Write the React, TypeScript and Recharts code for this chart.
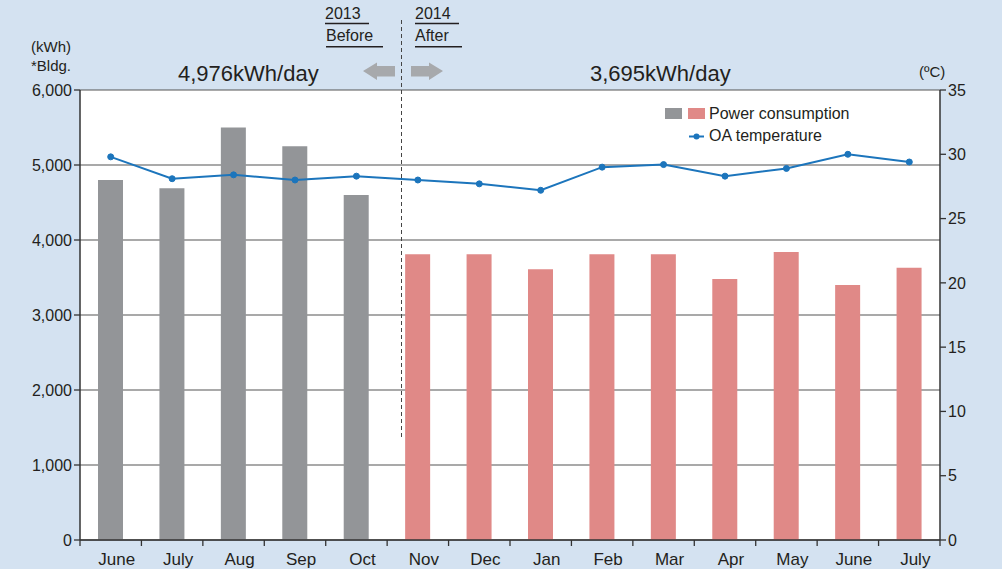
import React from 'react';
import { ComposedChart, Bar, Line, XAxis, YAxis, CartesianGrid, Cell } from 'recharts';

const categories = ['June', 'July', 'Aug', 'Sep', 'Oct', 'Nov', 'Dec', 'Jan', 'Feb', 'Mar', 'Apr', 'May', 'June', 'July'];
const power = [4800, 4690, 5500, 5250, 4600, 3810, 3810, 3610, 3810, 3810, 3480, 3840, 3400, 3630];
const temperature = [29.8, 28.1, 28.4, 28.0, 28.3, 28.0, 27.7, 27.2, 29.0, 29.2, 28.3, 28.9, 30.0, 29.4];
const beforeCount = 5;
const leftTicks = [0, 1000, 2000, 3000, 4000, 5000, 6000];
const rightTicks = [0, 5, 10, 15, 20, 25, 30, 35];

const data = categories.map((c, i) => ({ idx: i, name: c, power: power[i], temp: temperature[i] }));

const W = 1002;
const H = 569;
const LEFT_W = 80;
const RIGHT_W = 62;
const TOP = 90;
const XAXIS_H = 29;
const PLOT_W = W - LEFT_W - RIGHT_W;
const HALF_BAND = PLOT_W / categories.length / 2;

const FONT = '"Liberation Sans", Arial, Helvetica, sans-serif';
const TEXT = '#231f20';
const AXIS = '#333';
const GRAY = '#939598';
const PINK = '#e08987';
const BLUE = '#1c75bc';
const BG = '#d4e2f1';
const ARROW = '#a7a9ac';

const XTick = (props: any) => {
  const { x, y, payload, index } = props;
  const label = categories[payload.value];
  return (
    <g>
      <line x1={x - HALF_BAND} x2={x - HALF_BAND} y1={y} y2={y + 6} stroke={AXIS} strokeWidth={1.3} />
      {index === categories.length - 1 && (
        <line x1={x + HALF_BAND} x2={x + HALF_BAND} y1={y} y2={y + 6} stroke={AXIS} strokeWidth={1.3} />
      )}
      <text x={x + 6} y={y + 25} textAnchor="middle" fontSize={17} fontFamily={FONT} fill={TEXT}>
        {label}
      </text>
    </g>
  );
};

export default function App() {
  return (
    <div style={{ position: 'absolute', left: 0, top: 0, width: W, height: H, background: BG, fontFamily: FONT }}>
      <ComposedChart
        width={W}
        height={H}
        data={data}
        margin={{ top: TOP, right: 0, bottom: 0, left: 0 }}
        barSize={25}
      >
        <CartesianGrid yAxisId="left" vertical={false} horizontal stroke="#555" strokeWidth={1.2} fill="#ffffff" fillOpacity={1} horizontalValues={leftTicks} />
        <XAxis
          dataKey="idx"
          type="category"
          height={XAXIS_H}
          tickLine={false}
          tickSize={0}
          tickMargin={0}
          interval={0}
          axisLine={{ stroke: AXIS, strokeWidth: 1.5 }}
          tick={<XTick />}
        />
        <YAxis
          yAxisId="left"
          orientation="left"
          width={LEFT_W}
          domain={[0, 6000]}
          ticks={leftTicks}
          interval={0}
          tickSize={6}
          tickMargin={2}
          tickFormatter={(v: number) => v.toLocaleString('en-US')}
          tick={{ fontSize: 16, fontFamily: FONT, fill: TEXT }}
          tickLine={{ stroke: AXIS, strokeWidth: 1.3 }}
          axisLine={{ stroke: AXIS, strokeWidth: 1.5 }}
        />
        <YAxis
          yAxisId="right"
          orientation="right"
          width={RIGHT_W}
          domain={[0, 35]}
          ticks={rightTicks}
          interval={0}
          tickSize={6}
          tickMargin={2}
          tick={{ fontSize: 16, fontFamily: FONT, fill: TEXT, textAnchor: 'start' }}
          tickLine={{ stroke: AXIS, strokeWidth: 1.3 }}
          axisLine={{ stroke: AXIS, strokeWidth: 1.5 }}
        />
        <Bar yAxisId="left" dataKey="power" isAnimationActive={false}>
          {data.map((d, i) => (
            <Cell key={i} fill={i < beforeCount ? GRAY : PINK} />
          ))}
        </Bar>
        <Line
          yAxisId="right"
          dataKey="temp"
          stroke={BLUE}
          strokeWidth={2}
          dot={{ r: 3, fill: BLUE, stroke: BLUE, strokeWidth: 1 }}
          activeDot={false}
          isAnimationActive={false}
        />
      </ComposedChart>
      <svg width={W} height={H} style={{ position: 'absolute', left: 0, top: 0, pointerEvents: 'none' }}>
        <g fontFamily={FONT} fill={TEXT}>
          <text x={31} y={52} fontSize={15}>(kWh)</text>
          <text x={31} y={71} fontSize={15}>*Bldg.</text>
          <text x={919} y={77} fontSize={15}>(ºC)</text>
          <text x={178} y={81} fontSize={22}>4,976kWh/day</text>
          <text x={590} y={81} fontSize={22}>3,695kWh/day</text>
          <text x={325} y={19} fontSize={16}>2013</text>
          <text x={326} y={41} fontSize={16}>Before</text>
          <text x={415} y={19} fontSize={16}>2014</text>
          <text x={415} y={41} fontSize={16}>After</text>
          <text x={709} y={119} fontSize={16}>Power consumption</text>
          <text x={709} y={141} fontSize={16}>OA temperature</text>
        </g>
        <g stroke={TEXT} strokeWidth={1.6}>
          <line x1={325} x2={369} y1={23.5} y2={23.5} />
          <line x1={326} x2={383} y1={46.8} y2={46.8} />
          <line x1={415} x2={459} y1={23.5} y2={23.5} />
          <line x1={415} x2={462} y1={46.8} y2={46.8} />
        </g>
        <line x1={401.5} x2={401.5} y1={20} y2={439} stroke="#444" strokeWidth={1} strokeDasharray="4 3" />
        <polygon points="363,71 377,62.5 377,66 395,66 395,76.5 377,76.5 377,80" fill={ARROW} />
        <polygon points="443,71 429,62.5 429,66 411,66 411,76.5 429,76.5 429,80" fill={ARROW} />
        <rect x={665} y={108} width={17} height={11} fill={GRAY} />
        <rect x={688} y={108} width={17} height={11} fill={PINK} />
        <line x1={689} x2={704} y1={136.5} y2={136.5} stroke={BLUE} strokeWidth={2} />
        <circle cx={696.5} cy={136.5} r={3} fill={BLUE} />
      </svg>
    </div>
  );
}
